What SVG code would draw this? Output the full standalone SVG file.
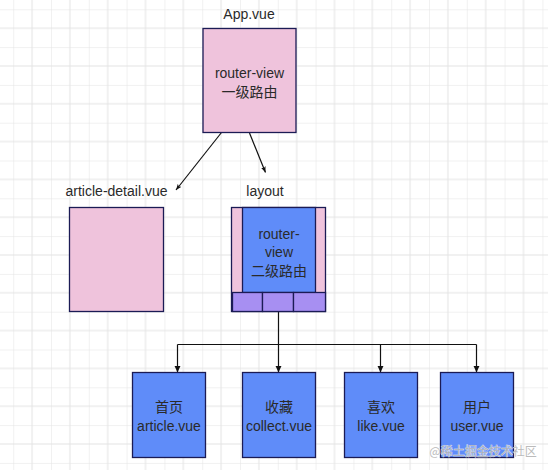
<svg xmlns="http://www.w3.org/2000/svg" width="548" height="470" viewBox="0 0 548 470">
  <style>
    .t { font-family: "Liberation Sans", "Noto Sans CJK SC", sans-serif; font-size: 14px; fill: #2a2a2a; text-anchor: middle; }
    .pink { fill: #efc3dc; stroke: #1b1b55; stroke-width: 1.3; }
    .blue { fill: #5f8cf9; stroke: #1b1b55; stroke-width: 1.3; }
    .purple { fill: #a78ff2; stroke: #1b1b55; stroke-width: 1.3; }
    .conn { fill: none; stroke: #111; stroke-width: 1.2; }
  </style>
  <defs>
    <pattern id="grid" x="13.2" y="9.3" width="37.8" height="37.8" patternUnits="userSpaceOnUse">
      <path d="M0 0 V37.8 M18.9 0 V37.8 M0 0 H37.8 M0 18.9 H37.8" fill="none" stroke="#e4e4e4" stroke-width="1"/>
    </pattern>
    <marker id="arr" viewBox="0 0 10 10" refX="10" refY="5" markerWidth="6" markerHeight="6" orient="auto" markerUnits="userSpaceOnUse">
      <path d="M0 1 L10 5 L0 9 L2.5 5 Z" fill="#111"/>
    </marker>
    <marker id="arrb" viewBox="0 0 10 10" refX="10" refY="5" markerWidth="7" markerHeight="7" orient="auto" markerUnits="userSpaceOnUse">
      <path d="M0 0.5 L10 5 L0 9.5 Z" fill="#111"/>
    </marker>
  </defs>
  <rect width="548" height="470" fill="#ffffff"/>
  <rect width="548" height="470" fill="url(#grid)"/>

  <g id="connectors">
    <line class="conn" x1="221.5" y1="132.5" x2="176" y2="190" marker-end="url(#arr)"/>
    <line class="conn" x1="249.5" y1="133" x2="265.5" y2="172.5" marker-end="url(#arr)"/>
    <path class="conn" d="M278.5 311.5 V344.5"/>
    <path class="conn" d="M177.5 344.5 H476.5"/>
    <line class="conn" x1="177.5" y1="344.5" x2="177.5" y2="372.5" marker-end="url(#arrb)"/>
    <line class="conn" x1="278.5" y1="344.5" x2="278.5" y2="372.5" marker-end="url(#arrb)"/>
    <line class="conn" x1="380.5" y1="344.5" x2="380.5" y2="372.5" marker-end="url(#arrb)"/>
    <line class="conn" x1="476.5" y1="344.5" x2="476.5" y2="372.5" marker-end="url(#arrb)"/>
  </g>

  <g id="app">
    <text class="t" x="249" y="19">App.vue</text>
    <rect class="pink" x="203" y="28.5" width="93" height="104"/>
    <text class="t" x="249.5" y="77.5">router-view</text>
    <text class="t" x="249.5" y="96.5">一级路由</text>
  </g>

  <g id="article-detail">
    <text class="t" x="116.5" y="196">article-detail.vue</text>
    <rect class="pink" x="69.5" y="207.5" width="94" height="104"/>
  </g>

  <g id="layout">
    <text class="t" x="265" y="196">layout</text>
    <rect class="pink" x="231.5" y="207.5" width="94" height="104"/>
    <rect class="blue" x="242.5" y="207.5" width="73" height="85"/>
    <text class="t" x="279" y="238.5">router-</text>
    <text class="t" x="279" y="257">view</text>
    <text class="t" x="279" y="275.5">二级路由</text>
    <rect class="purple" x="232.5" y="292.5" width="30" height="19"/>
    <rect class="purple" x="262.5" y="292.5" width="31" height="19"/>
    <rect class="purple" x="293.5" y="292.5" width="32" height="19"/>
  </g>

  <g id="article">
    <rect class="blue" x="132.5" y="372.5" width="73" height="85"/>
    <text class="t" x="169" y="412">首页</text>
    <text class="t" x="169" y="431">article.vue</text>
  </g>
  <g id="collect">
    <rect class="blue" x="242.5" y="372.5" width="73" height="85"/>
    <text class="t" x="279" y="412">收藏</text>
    <text class="t" x="279" y="431">collect.vue</text>
  </g>
  <g id="like">
    <rect class="blue" x="344.5" y="372.5" width="73" height="85"/>
    <text class="t" x="381" y="412">喜欢</text>
    <text class="t" x="381" y="431">like.vue</text>
  </g>
  <g id="user">
    <rect class="blue" x="440.5" y="372.5" width="73" height="85"/>
    <text class="t" x="477" y="412">用户</text>
    <text class="t" x="477" y="431">user.vue</text>
  </g>

  <g id="watermark">
    <text x="483" y="455.5" font-family="'Noto Sans CJK SC', sans-serif" font-size="12" text-anchor="middle" fill="#b4b4b4" stroke="#ffffff" stroke-width="0.6" paint-order="stroke" opacity="0.9">@稀土掘金技术社区</text>
  </g>
</svg>
